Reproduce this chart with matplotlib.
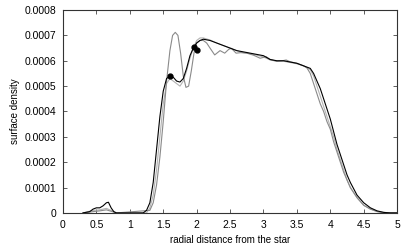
import matplotlib
matplotlib.use('Agg')
import matplotlib.pyplot as plt

plt.rcParams['font.family'] = ['Liberation Sans', 'DejaVu Sans']

# black curve
x_black = [0.3, 0.4, 0.45, 0.5, 0.55, 0.6, 0.65, 0.68, 0.72, 0.76, 0.8, 1.2,
           1.25, 1.3, 1.35, 1.4, 1.45, 1.5, 1.55, 1.6, 1.65, 1.7, 1.75, 1.8,
           1.85, 1.9, 1.95, 2.0, 2.05, 2.1, 2.2, 2.3, 2.4, 2.5, 2.6, 2.7, 2.8,
           2.9, 3.0, 3.1, 3.2, 3.3, 3.4, 3.5, 3.6, 3.65, 3.7, 3.75, 3.8, 3.85,
           3.9, 3.95, 4.0, 4.05, 4.1, 4.15, 4.2, 4.25, 4.3, 4.35, 4.4, 4.5,
           4.6, 4.7, 4.8, 4.9, 5.0]
y_black = [0, 0.000005, 0.000015, 0.00002, 0.00002, 0.000028, 0.00004, 0.000042,
           0.00002, 0.000005, 0, 0,
           0.00001, 0.00004, 0.00012, 0.00025, 0.00038, 0.00048, 0.00053, 0.00054,
           0.000535, 0.00052, 0.000516, 0.00053,
           0.00057, 0.00062, 0.00065, 0.00067, 0.00068, 0.000685, 0.00068, 0.00067,
           0.00066, 0.00065, 0.00064, 0.000635, 0.00063,
           0.000625, 0.00062, 0.000605, 0.0006, 0.0006, 0.000595, 0.00059, 0.00058,
           0.000575, 0.00057, 0.00055, 0.00052, 0.00049,
           0.00045, 0.00041, 0.00037, 0.00032, 0.00027, 0.00023, 0.00019, 0.00015,
           0.00012, 0.000095, 0.00007, 0.00004,
           0.00002, 0.000008, 0.000002, 0, 0]

# medium grey, oscillating curve
x_grey = [0.3, 0.45, 0.55, 0.65, 0.7, 0.8, 1.3, 1.35, 1.4, 1.45, 1.5, 1.55,
          1.6, 1.64, 1.68, 1.72, 1.76, 1.8, 1.84, 1.88, 1.92, 1.96, 2.0, 2.05,
          2.1, 2.15, 2.2, 2.27, 2.35, 2.42, 2.48, 2.52, 2.59, 2.66, 2.75, 2.85,
          2.95, 3.04, 3.1, 3.2, 3.28, 3.34, 3.4, 3.5, 3.6, 3.65, 3.7, 3.75, 3.8,
          3.85, 3.9, 3.95, 4.0, 4.05, 4.1, 4.15, 4.2, 4.25, 4.3, 4.35, 4.4, 4.5,
          4.6, 4.7, 4.8, 5.0]
y_grey = [0, 0.000005, 0.000008, 0.000012, 0.000008, 0, 0.00001, 0.00004,
          0.00011, 0.00022, 0.00036, 0.00052,
          0.00064, 0.0007, 0.000712, 0.0007, 0.00063, 0.00054, 0.000495, 0.0005,
          0.00056, 0.00063, 0.00067, 0.00068,
          0.00068, 0.00067, 0.00065, 0.000623, 0.00064, 0.00063, 0.000645,
          0.000649, 0.00063, 0.000632, 0.00063, 0.000622,
          0.00061, 0.000616, 0.000605, 0.000598, 0.0006, 0.000603, 0.000596,
          0.00059, 0.00058, 0.000572, 0.00055, 0.00051, 0.00047,
          0.00043, 0.0004, 0.00036, 0.00033, 0.00028, 0.00024, 0.0002, 0.00016,
          0.00013, 0.0001, 0.00008, 0.00006, 0.00003,
          0.000015, 0.000005, 0, 0]

# light grey curve
x_light = [0.3, 0.45, 0.55, 0.65, 0.7, 0.8, 1.25, 1.3, 1.35, 1.4, 1.45, 1.5,
           1.55, 1.6, 1.65, 1.7, 1.75, 1.8, 1.85, 1.9, 1.95, 2.0, 2.05, 2.1,
           2.2, 2.3, 2.4, 2.5, 2.6, 2.7, 2.8, 2.9, 3.0, 3.1, 3.2, 3.3, 3.4, 3.5,
           3.6, 3.7, 3.75, 3.8, 3.85, 3.9, 3.95, 4.0, 4.05, 4.1, 4.15, 4.2, 4.25,
           4.3, 4.35, 4.4, 4.5, 4.6, 4.7, 4.8, 4.9, 5.0]
y_light = [0, 0.00001, 0.000012, 0.000018, 0.000012, 0, 0, 0.00002, 0.00007,
           0.00017, 0.0003, 0.00043,
           0.00051, 0.00053, 0.00052, 0.00051, 0.0005, 0.00052, 0.00056, 0.00061,
           0.00065, 0.00068, 0.00069, 0.00069,
           0.000682, 0.00067, 0.00066, 0.00065, 0.00064, 0.000632, 0.000628,
           0.000622, 0.000615, 0.000603, 0.000598, 0.000598, 0.000593, 0.000588,
           0.00058, 0.000565, 0.00054, 0.0005, 0.00046, 0.00042, 0.00038,
           0.00034, 0.0003, 0.00025, 0.00021, 0.00017, 0.00013,
           0.0001, 0.00008, 0.00006, 0.00003, 0.000015, 0.000006, 0.000002, 0, 0]

# marked points
x_dots = [1.6, 1.96, 2.01]
y_dots = [0.00054, 0.000653, 0.000642]

fig = plt.figure(figsize=(4.09, 2.45), dpi=100)
ax = fig.add_axes([0.154, 0.131, 0.817, 0.828])

ax.plot(x_light, y_light, color='#b4b4b4', lw=0.8)
ax.plot(x_grey, y_grey, color='#8a8a8a', lw=0.8)
ax.plot(x_black, y_black, color='black', lw=0.8)
ax.plot(x_dots, y_dots, 'o', color='black', ms=3.5)

ax.set_xlim(0, 5)
ax.set_ylim(0, 0.0008)
ax.set_xticks([0, 0.5, 1, 1.5, 2, 2.5, 3, 3.5, 4, 4.5, 5])
ax.set_xticklabels(['0', '0.5', '1', '1.5', '2', '2.5', '3', '3.5', '4', '4.5', '5'])
ax.set_yticks([0, 0.0001, 0.0002, 0.0003, 0.0004, 0.0005, 0.0006, 0.0007, 0.0008])
ax.set_yticklabels(['0', '0.0001', '0.0002', '0.0003', '0.0004', '0.0005',
                    '0.0006', '0.0007', '0.0008'])
ax.tick_params(direction='in', top=True, right=True, length=3, width=0.6,
               labelsize=7.5, color='#444444', pad=5)
for s in ax.spines.values():
    s.set_linewidth(0.8)
    s.set_color('#333333')

ax.set_xlabel('radial distance from the star', fontsize=7, labelpad=4)
ax.set_ylabel('surface density', fontsize=7, labelpad=3)

plt.savefig('out.png', dpi=100)
